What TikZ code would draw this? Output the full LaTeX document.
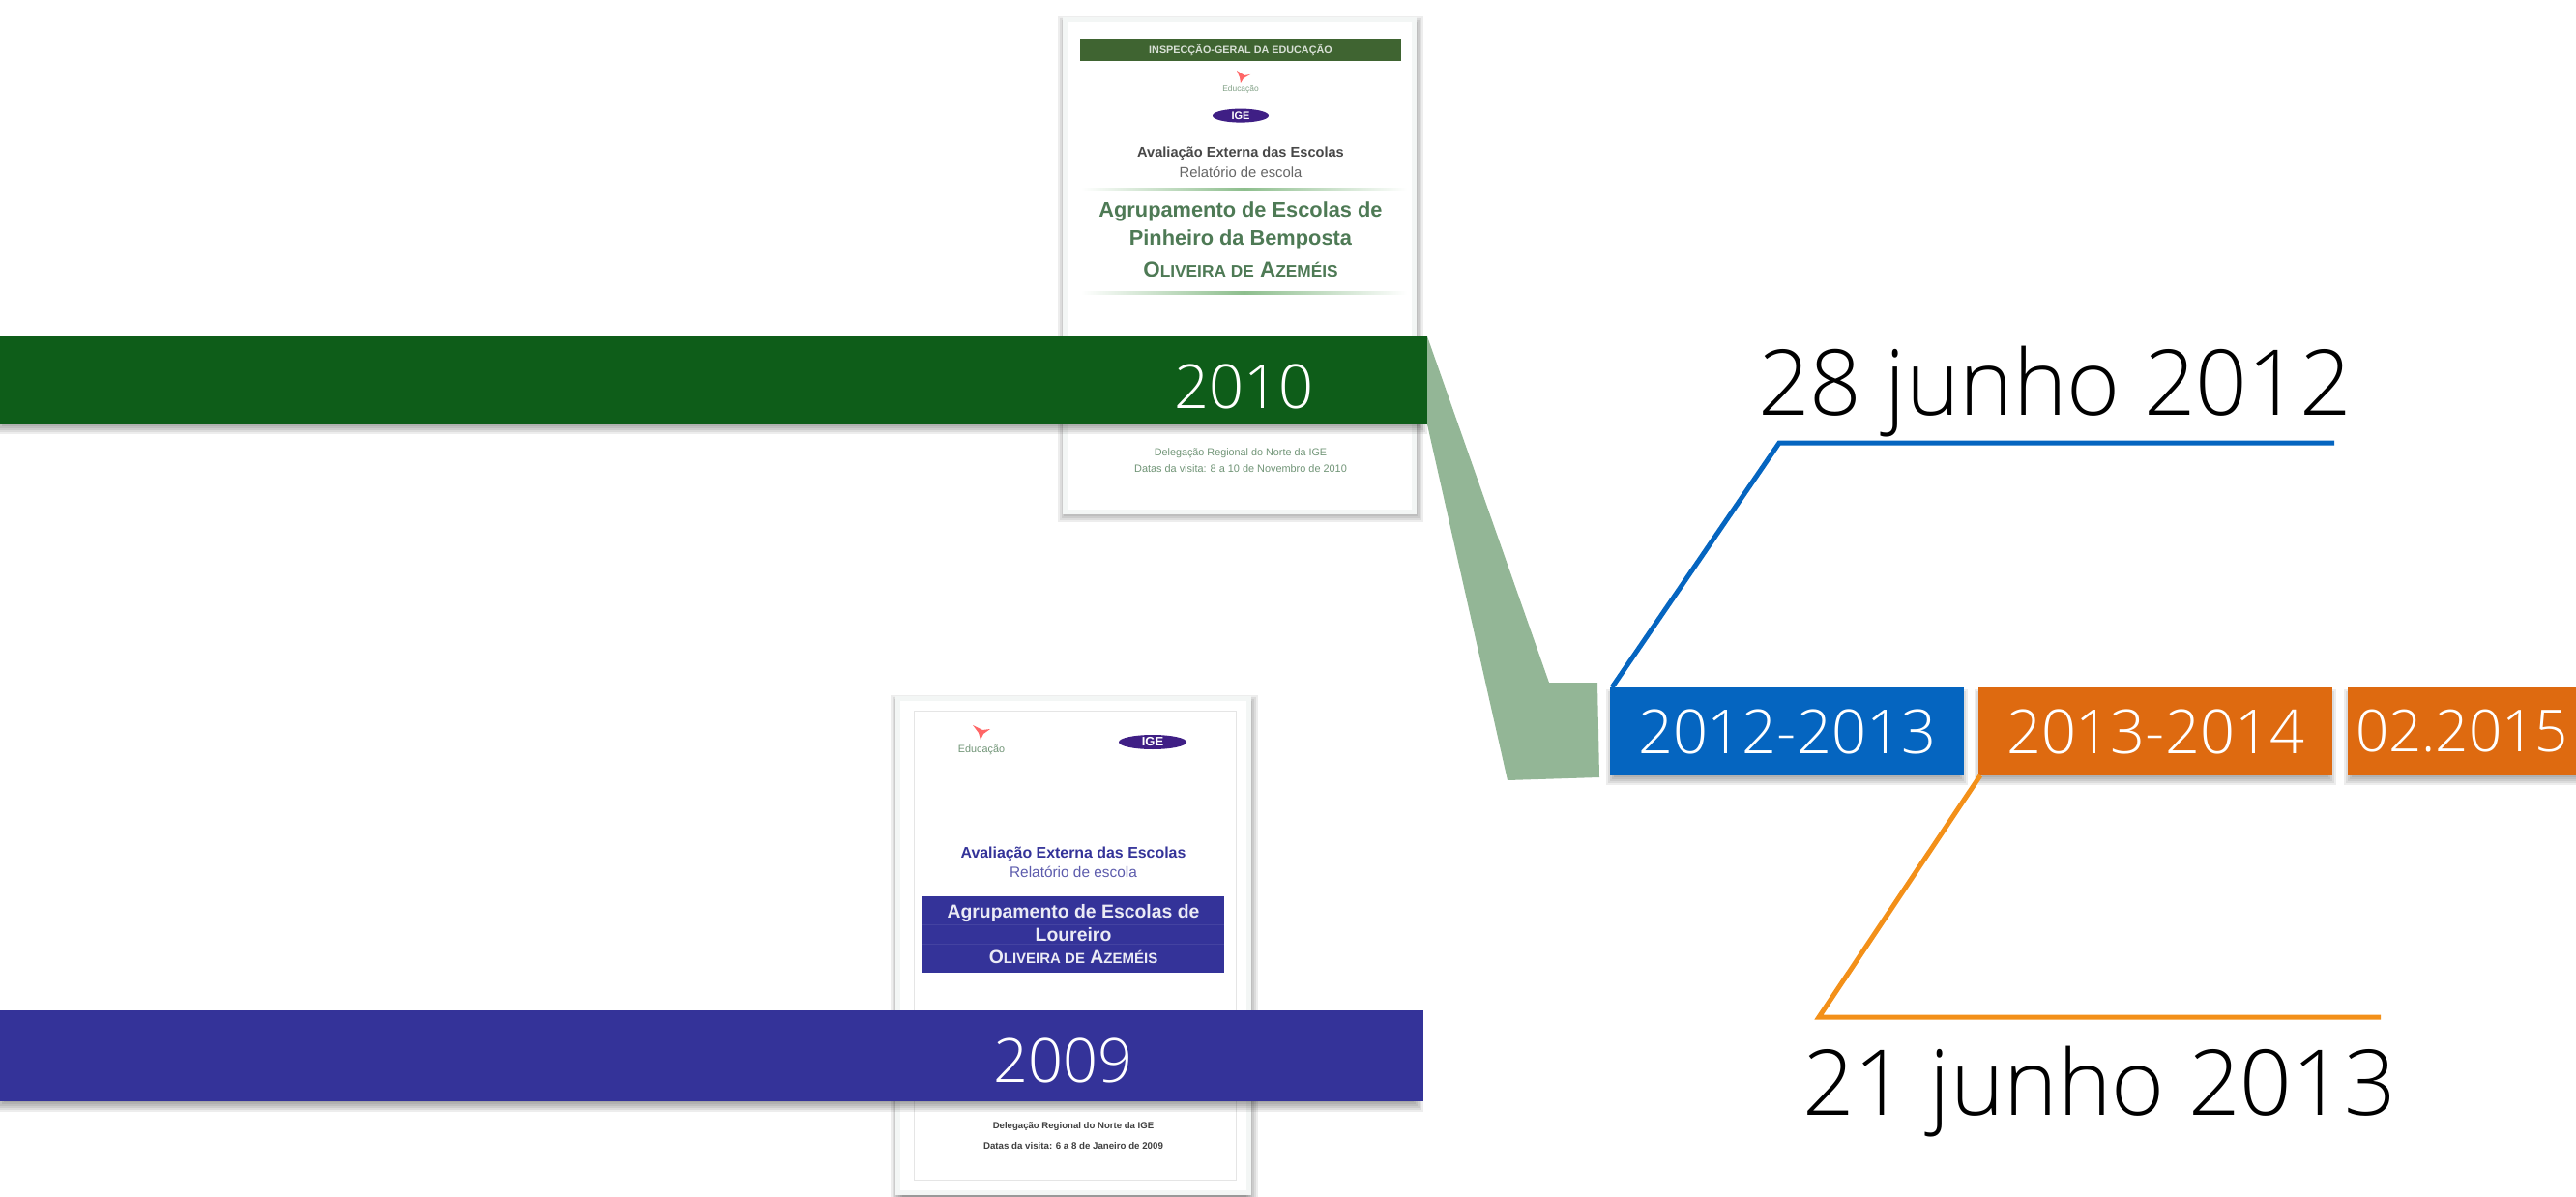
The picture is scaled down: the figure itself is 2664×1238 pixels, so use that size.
\documentclass[tikz,border=0pt]{standalone}
\usepackage{fontspec}
\setmainfont{Liberation Sans}
\newfontfamily\lightf{Open Sans Light}
\usetikzlibrary{calc}
\definecolor{barGreen}{HTML}{0E5D19}
\definecolor{barNavy}{HTML}{343399}
\definecolor{wedge}{HTML}{93B696}
\definecolor{boxBlue}{HTML}{0565C0}
\definecolor{boxOrange}{HTML}{DE6A10}
\definecolor{lineOrange}{HTML}{F39019}
\definecolor{docEdge}{HTML}{F3F6F5}
\definecolor{headGreen}{HTML}{3F6431}
\definecolor{textGreen}{HTML}{4E7A55}
\definecolor{ruleGreen}{HTML}{8DBE8D}
\definecolor{igePurple}{HTML}{3F1F85}
\newcommand\softshadow[4]{%
  \foreach \k in {0,2,...,12}{\fill[black,opacity=.07] (#1-6+\k,#2-6+\k) rectangle (#3+6-\k,#4+6-\k);}}
\newcommand\fs[1]{\fontsize{#1}{#1}\selectfont}
\newcommand\lowered[1]{\raisebox{-6.5pt}{#1}}
\tikzset{
  x=1pt,y=-1pt,
  rectbox/.style={inner sep=0pt,outer sep=0pt,minimum width=#1},
  label/.style={inner sep=0pt,outer sep=0pt,align=center},
  blab/.style={label,text=white,font=\lightf\fs{63}},
  datelab/.style={inner sep=0pt,outer sep=0pt,font=\lightf\fs{94},text=black,anchor=base},
  doclab/.style={label,font=\fs{#1}},
  connector/.style={line width=5pt,line join=miter},
  tablerule/.style={white!8!barNavy,line width=.8pt},
}
\begin{document}
\begin{tikzpicture}
\useasboundingbox (0,0) rectangle (2664,1238);
% Document 2010
\softshadow{1100}{23}{1466}{534}
\fill[docEdge] (1099,18) rectangle (1465,532);
\fill[white] (1104,23) rectangle (1460,527);
\fill[headGreen] (1117,40) rectangle (1449,63);
\node[doclab=10.8,text=white!80!headGreen] (h1) at (1283,51.5) {\textbf{INSPECÇÃO-GERAL DA EDUCAÇÃO}};
\fill[red!60!white] (1279,73) -- (1287,78) -- (1293,77) -- (1286,81) -- (1283,86) -- (1282,80) -- cycle;
\node[doclab=8.4,text=textGreen!70] (e1) at (1283,92.5) {Educação};
\fill[igePurple] (1283,119.6) ellipse [x radius=29,y radius=7];
\node[doclab=11,text=white] (i1) at (1283,119.6) {\textbf{IGE}};
\node[doclab=14.6,text=black!72] (a1) at (1283,159) {\textbf{Avaliação Externa das Escolas}};
\node[doclab=14.8,text=black!60] (r1) at (1283,178.6) {Relatório de escola};
\shade[left color=white,right color=white,middle color=ruleGreen] (1118,194.5) rectangle (1455,197.5);
\node[doclab=21.8,text=textGreen] (g1) at (1283,218.6) {\textbf{Agrupamento de Escolas de}};
\node[doclab=21.8,text=textGreen] (p1) at (1283,247.5) {\textbf{Pinheiro da Bemposta}};
\node[doclab=22.4,text=textGreen] (o1) at (1283,278.6) {\textbf{O{\fs{17.3}LIVEIRA DE} A{\fs{17.3}ZEMÉIS}}};
\shade[left color=white,right color=white,middle color=ruleGreen] (1118,302) rectangle (1455,305);
\node[doclab=10.8,text=textGreen!80] (d1) at (1283,468.6) {Delegação Regional do Norte da IGE};
\node[doclab=10.9,text=textGreen!80] (v1) at (1283,485) {Datas da visita: 8 a 10 de Novembro de 2010};
% Document 2009
\softshadow{927}{725}{1295}{1250}
\fill[docEdge] (926,720) rectangle (1294,1236);
\fill[white] (931,725) rectangle (1289,1231);
\draw[black!10,line width=1pt] (945,735) rectangle (1278,1220);
\fill[red!60!white] (1006,750) -- (1016,755) -- (1024,754) -- (1017,759) -- (1014,765) -- (1012,758) -- cycle;
\node[doclab=10.8,text=textGreen!80] (e2) at (1015,776) {Educação};
\fill[igePurple] (1192,767.5) ellipse [x radius=35,y radius=7.5];
\node[doclab=13,text=white] (i2) at (1192,767.5) {\textbf{IGE}};
\node[doclab=15.9,text=barNavy] (a2) at (1110,883) {\textbf{Avaliação Externa das Escolas}};
\node[doclab=15.4,text=barNavy!80] (r2) at (1110,902) {Relatório de escola};
\fill[barNavy] (954,927) rectangle (1266,1006);
\draw[tablerule] (954,956) -- (1266,956);
\draw[tablerule] (954,976) -- (1266,976);
\node[doclab=19.4,text=white!90!barNavy] (g2) at (1110,944.5) {\textbf{Agrupamento de Escolas de}};
\node[doclab=19.4,text=white!90!barNavy] (l2) at (1110,967) {\textbf{Loureiro}};
\node[doclab=19.4,text=white!90!barNavy] (o2) at (1110,990) {\textbf{O{\fs{15}LIVEIRA DE} A{\fs{15}ZEMÉIS}}};
\node[doclab=9.6,text=black!75] (d2) at (1110,1165) {\textbf{Delegação Regional do Norte da IGE}};
\node[doclab=9.7,text=black!75] (v2) at (1110,1185) {\textbf{Datas da visita: 6 a 8 de Janeiro de 2009}};
% Wedge
\coordinate (wA) at (1476,348);
\coordinate (wB) at (1602,706);
\coordinate (wC) at (1652,706);
\coordinate (wD) at (1654,804);
\coordinate (wE) at (1559,807);
\coordinate (wF) at (1476,439);
\fill[wedge] (wA) -- (wB) -- (wC) -- (wD) -- (wE) -- (wF) -- cycle;
% Bars
\softshadow{0}{357}{1470}{443}
\fill[barGreen] (0,348) rectangle (1476,439);
\node[blab] (y2010) at (1286,400) {2010};
\softshadow{0}{1054}{1466}{1144}
\fill[barNavy] (0,1045) rectangle (1472,1139);
\node[blab] (y2009) at (1099,1097) {2009};
% Period boxes
\softshadow{1667}{719}{2029}{806}
\softshadow{2048}{719}{2410}{806}
\softshadow{2430}{719}{2670}{806}
\node[rectbox=366pt,minimum height=91pt,fill=boxBlue,blab] (p1213) at (1848,756.5) {\lowered{2012-2013}};
\node[rectbox=366pt,minimum height=91pt,fill=boxOrange,blab] (p1314) at (2229,756.5) {\lowered{2013-2014}};
\node[rectbox=236pt,minimum height=91pt,fill=boxOrange,blab,font=\lightf\fs{60}] (p15) at (2546,756.5) {\lowered{02.2015}};
% Connectors
\coordinate (b1) at (1840,458);
\coordinate (b2) at (2414,458);
\draw[boxBlue,connector] ($(p1213.north west)+(2,0)$) -- (b1) -- (b2);
\coordinate (c1) at (1881,1052);
\coordinate (c2) at (2462,1052);
\draw[lineOrange,connector] ($(p1314.south west)+(2,0)$) -- (c1) -- (c2);
% Dates
\node[datelab] (d12) at (2125,429) {28 junho 2012};
\node[datelab] (d13) at (2171,1153) {21 junho 2013};
\end{tikzpicture}
\end{document}
